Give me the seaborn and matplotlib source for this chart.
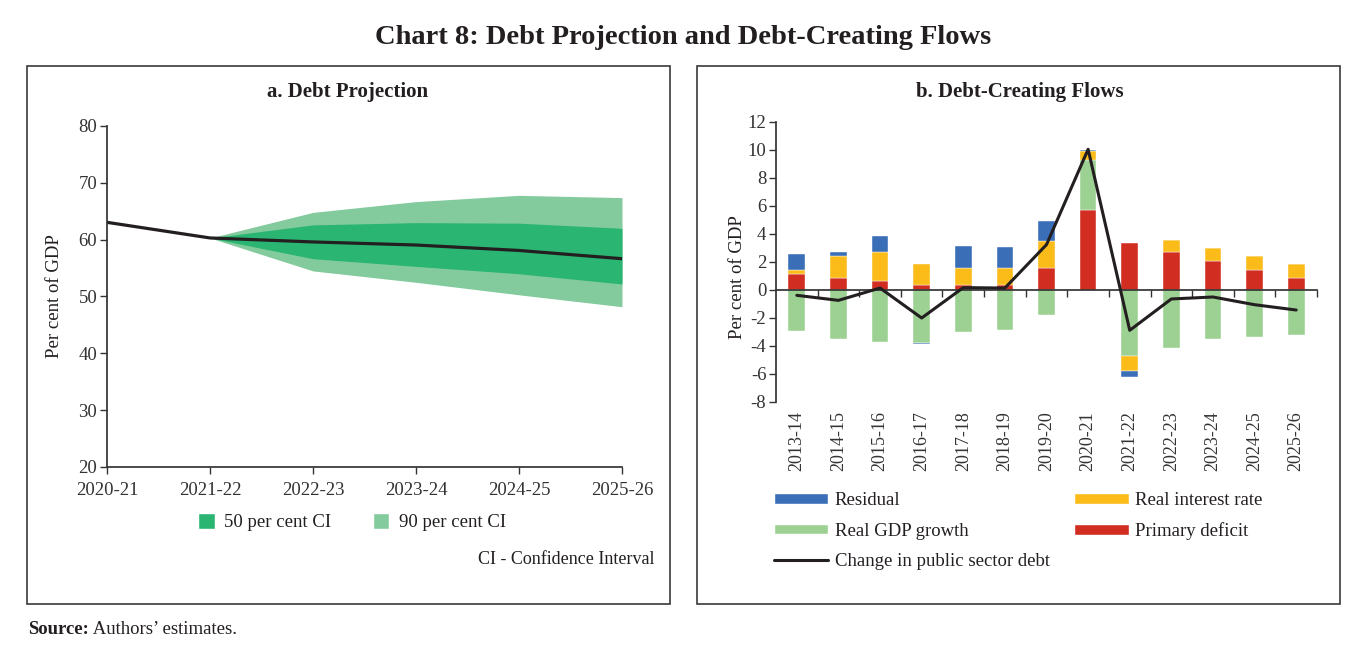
import numpy as np
import pandas as pd
import matplotlib
matplotlib.use("Agg")
import matplotlib.pyplot as plt
from matplotlib.patches import Rectangle, Patch
from matplotlib.lines import Line2D
import seaborn as sns

# ---------------- data ----------------
proj_years = ["2020-21", "2021-22", "2022-23", "2023-24", "2024-25", "2025-26"]
debt_path = [63.05, 60.3, 59.6, 59.06, 58.1, 56.65]
ci90_upper = [np.nan, 60.3, 64.8, 66.7, 67.8, 67.4]
ci50_upper = [np.nan, 60.3, 62.6, 63.0, 62.9, 62.0]
ci50_lower = [np.nan, 60.3, 56.65, 55.3, 54.0, 52.2]
ci90_lower = [np.nan, 60.3, 54.5, 52.5, 50.3, 48.2]

flow_years = ["2013-14", "2014-15", "2015-16", "2016-17", "2017-18", "2018-19", "2019-20",
              "2020-21", "2021-22", "2022-23", "2023-24", "2024-25", "2025-26"]
primary_deficit = [1.12, 0.86, 0.62, 0.36, 0.36, 0.36, 1.57, 5.71, 3.33, 2.71, 2.07, 1.43, 0.86]
real_gdp_growth = [-2.95, -3.48, -3.71, -3.79, -3.00, -2.88, -1.76, 3.57, -4.74, -4.14, -3.52, -3.36, -3.24]
real_interest_rate = [0.28, 1.57, 2.09, 1.50, 1.21, 1.21, 1.91, 0.64, -1.02, 0.84, 0.93, 0.97, 0.97]
residual = [1.17, 0.31, 1.12, -0.05, 1.60, 1.48, 1.47, 0.10, -0.43, 0.0, 0.0, 0.0, 0.0]
change_public_debt = [-0.38, -0.74, 0.14, -2.00, 0.17, 0.14, 3.24, 10.05, -2.88, -0.64, -0.50, -1.05, -1.43]

# ---------------- style ----------------
sns.set_theme(style="ticks")
plt.rcParams["font.family"] = ["Liberation Serif", "DejaVu Serif"]
plt.rcParams["axes.unicode_minus"] = False
plt.rcParams["axes.edgecolor"] = "#333333"
plt.rcParams["xtick.color"] = "#333333"
plt.rcParams["ytick.color"] = "#333333"
plt.rcParams["text.color"] = "#231f20"
plt.rcParams["axes.labelcolor"] = "#231f20"

W, H = 1355, 654
fig = plt.figure(figsize=(W / 100, H / 100), dpi=100)
fig.patch.set_facecolor("white")

def fx(px):
    return px / W

def fy(py):
    return 1 - py / H

TXT = "#231f20"
FS = 13.5

# Panel frames
for (x0, x1) in [(27, 670), (697, 1340)]:
    fig.patches.append(Rectangle((fx(x0), fy(604)), fx(x1) - fx(x0), fy(66) - fy(604),
                                 transform=fig.transFigure, fill=False,
                                 edgecolor="#3a3a3a", linewidth=1.2))

fig.text(fx(683), fy(38), "Chart 8: Debt Projection and Debt-Creating Flows",
         ha="center", va="center", fontsize=20.5, fontweight="bold", color=TXT)
fig.text(fx(348), fy(92), "a. Debt Projection", ha="center", va="center",
         fontsize=15, fontweight="bold", color=TXT)
fig.text(fx(1020), fy(92), "b. Debt-Creating Flows", ha="center", va="center",
         fontsize=15, fontweight="bold", color=TXT)

# ---------------- left: Debt projection ----------------
axL = fig.add_axes([fx(107), fy(467), fx(622) - fx(107), fy(126) - fy(467)])
xi = np.arange(len(proj_years))
c90 = "#83cb9d"
c50 = "#2bb572"
axL.fill_between(xi, ci90_lower, ci90_upper, color=c90, linewidth=0)
axL.fill_between(xi, ci50_lower, ci50_upper, color=c50, linewidth=0)
sns.lineplot(x=xi, y=debt_path, ax=axL, color="#231f20", linewidth=2.3)
axL.set_xlim(0, len(proj_years) - 1)
axL.set_ylim(20, 80)
axL.set_yticks(np.arange(20, 81, 10))
axL.set_xticks(xi)
axL.set_xticklabels(proj_years)
axL.tick_params(axis="both", labelsize=FS, length=5, width=1, pad=4)
axL.tick_params(axis="x", pad=6)
axL.tick_params(axis="y", pad=2)
for s in ["top", "right"]:
    axL.spines[s].set_visible(False)
axL.set_ylabel("Per cent of GDP", fontsize=FS)
axL.yaxis.set_label_coords(-0.085, 0.5)

fig.legend(handles=[Patch(facecolor=c50, label="50 per cent CI"),
                    Patch(facecolor=c90, label="90 per cent CI")],
           loc="center", bbox_to_anchor=(fx(352), fy(522)), ncol=2, frameon=False,
           fontsize=FS, handlelength=0.9, handleheight=0.95, handletextpad=0.5,
           columnspacing=2.2, borderpad=0, borderaxespad=0)
fig.text(fx(655), fy(560), "CI - Confidence Interval", ha="right", va="center",
         fontsize=FS - 0.5, color=TXT)

# ---------------- right: Debt-creating flows ----------------
axR = fig.add_axes([fx(776), fy(402), fx(1317) - fx(776), fy(122) - fy(402)])
xr = np.arange(len(flow_years))
series = [
    ("Primary deficit", primary_deficit, "#d12d21"),
    ("Real GDP growth", real_gdp_growth, "#9dd193"),
    ("Real interest rate", real_interest_rate, "#fbbc1a"),
    ("Residual", residual, "#3a6fb8"),
]
pos_base = np.zeros(len(flow_years))
neg_base = np.zeros(len(flow_years))
bw = 0.4
for name, vals, col in series:
    v = np.array(vals, dtype=float)
    bottoms = np.where(v >= 0, pos_base, neg_base)
    axR.bar(xr, v, bottom=bottoms, width=bw, color=col, edgecolor="white",
            linewidth=0.3, zorder=2)
    pos_base = pos_base + np.where(v >= 0, v, 0)
    neg_base = neg_base + np.where(v < 0, v, 0)
sns.lineplot(x=xr, y=change_public_debt, ax=axR, color="#231f20", linewidth=2.2, zorder=4)

axR.set_xlim(-0.5, len(flow_years) - 0.5)
axR.set_ylim(-8, 12)
axR.set_yticks(np.arange(-8, 13, 2))
axR.spines["bottom"].set_position(("data", 0))
axR.spines["bottom"].set_zorder(3)
for s in ["top", "right"]:
    axR.spines[s].set_visible(False)
axR.set_xticks(xr)
axR.set_xticklabels(flow_years, rotation=90)
axR.set_xticks(np.arange(0.5, len(flow_years), 1), minor=True)
axR.tick_params(axis="x", which="major", length=0, pad=87, labelsize=FS - 0.5)
axR.tick_params(axis="x", which="minor", length=5, width=1, direction="out")
axR.tick_params(axis="y", labelsize=FS, length=5, width=1, pad=2)
axR.set_ylabel("Per cent of GDP", fontsize=FS)
axR.yaxis.set_label_coords(-0.055, 0.446)

handles = [
    Patch(facecolor="#3a6fb8", label="Residual"),
    Patch(facecolor="#9dd193", label="Real GDP growth"),
    Line2D([0], [0], color="#231f20", linewidth=2.2, label="Change in public sector debt"),
    Patch(facecolor="#fbbc1a", label="Real interest rate"),
    Patch(facecolor="#d12d21", label="Primary deficit"),
]
fig.legend(handles=handles, loc="upper left", bbox_to_anchor=(fx(774), fy(492)), ncol=2,
           frameon=False, fontsize=FS, handlelength=2.9, handleheight=0.5,
           handletextpad=0.35, columnspacing=1.3, labelspacing=0.72,
           borderpad=0, borderaxespad=0)

# ---------------- source ----------------
t = fig.text(fx(28), fy(630), "Source:", ha="left", va="center", fontsize=FS,
             fontweight="bold", color=TXT)
plt.annotate(" Authors’ estimates.", xy=(1, 0.5), xycoords=t, ha="left", va="center",
             fontsize=FS, color=TXT, annotation_clip=False)

fig.savefig("out.png", dpi=100, facecolor="white")
